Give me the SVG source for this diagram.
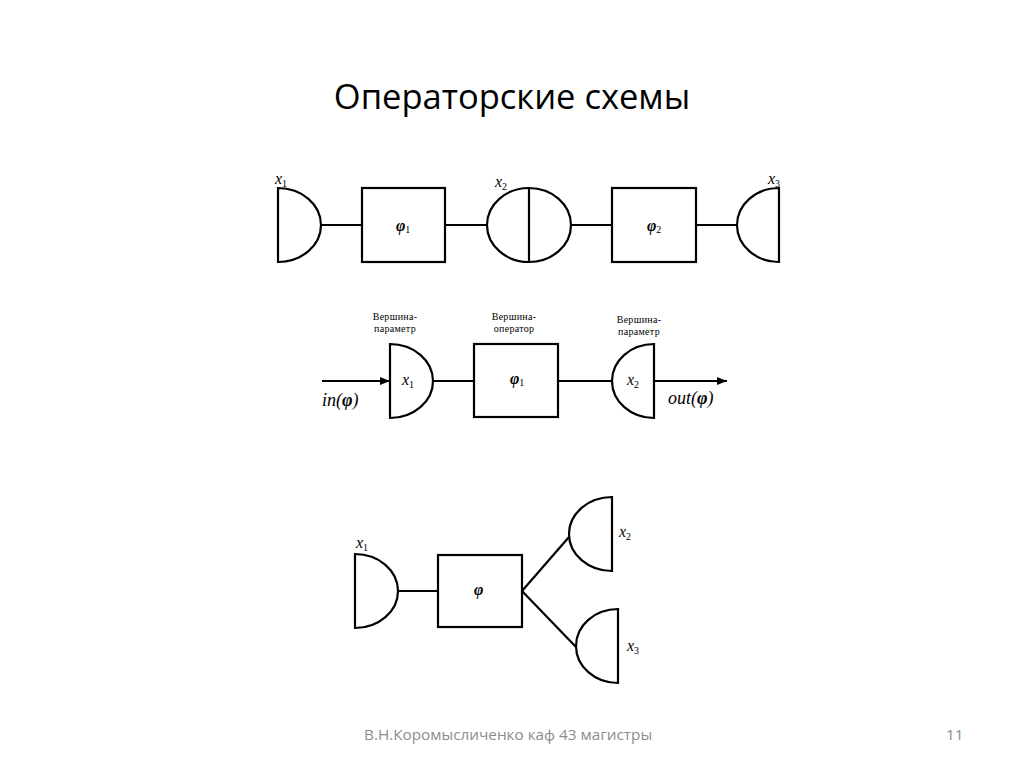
<svg xmlns="http://www.w3.org/2000/svg" width="1024" height="767" viewBox="0 0 1024 767">
<style>
.s{fill:none;stroke:#000;stroke-width:2.2}
.v{font-family:"Liberation Serif",serif;font-style:italic;font-size:16px;fill:#000}
.io{font-family:"Liberation Serif",serif;font-style:italic;font-size:18px;fill:#000}
.sub{font-size:10px;font-style:normal}
.vb{font-family:"Liberation Serif",serif;font-style:italic;font-weight:bold;font-size:16px;fill:#000}
.lab{font-family:"Liberation Serif",serif;font-size:10px;fill:#000;text-anchor:middle;letter-spacing:0.3px}
.t{font-family:"Open Sans","Liberation Sans",sans-serif;font-size:34.5px;fill:#000;text-anchor:middle}
.f{font-family:"Open Sans","Liberation Sans",sans-serif;font-size:15.3px;fill:#8c8c8c}
</style>
<defs>
<marker id="ah" markerWidth="10" markerHeight="8" refX="10" refY="4" orient="auto" markerUnits="userSpaceOnUse" viewBox="0 0 10 8">
<path d="M0,0 L10,4 L0,8 Z" fill="#000"/>
</marker>
</defs>
<rect width="1024" height="767" fill="#fff"/>
<text class="t" x="512" y="109">Операторские схемы</text>

<g id="connectors">
<line class="s" x1="321" y1="225" x2="362" y2="225"/>
<line class="s" x1="445" y1="225" x2="487" y2="225"/>
<line class="s" x1="571" y1="225" x2="612" y2="225"/>
<line class="s" x1="696" y1="225" x2="737" y2="225"/>
<line class="s" x1="322" y1="381" x2="390" y2="381" marker-end="url(#ah)"/>
<line class="s" x1="433" y1="381" x2="474" y2="381"/>
<line class="s" x1="558" y1="381" x2="612" y2="381"/>
<line class="s" x1="654" y1="381" x2="727" y2="381" marker-end="url(#ah)"/>
<line class="s" x1="398" y1="591" x2="438" y2="591"/>
<line class="s" x1="522" y1="591" x2="569" y2="537"/>
<line class="s" x1="522" y1="591" x2="576" y2="647"/>
</g>

<g id="r1-x1">
<path class="s" d="M278,188 A43,37 0 0 1 278,262 Z"/>
<text class="v" x="275" y="184">x<tspan class="sub" dy="3">1</tspan></text>
</g>
<g id="r1-phi1">
<rect class="s" x="362" y="188" width="83" height="74"/>
<text class="vb" x="396" y="231">φ<tspan class="sub" font-weight="normal" dy="2">1</tspan></text>
</g>
<g id="r1-x2">
<ellipse class="s" cx="529" cy="225" rx="42" ry="37"/>
<line class="s" x1="529" y1="188" x2="529" y2="262"/>
<text class="v" x="495" y="187">x<tspan class="sub" dy="3">2</tspan></text>
</g>
<g id="r1-phi2">
<rect class="s" x="612" y="188" width="84" height="74"/>
<text class="vb" x="647" y="231">φ<tspan class="sub" font-weight="normal" dy="2">2</tspan></text>
</g>
<g id="r1-x3">
<path class="s" d="M779,188 A42,37 0 0 0 779,262 Z"/>
<text class="v" x="768" y="184">x<tspan class="sub" dy="3">3</tspan></text>
</g>

<g id="r2-x1">
<path class="s" d="M390,344 A43,37 0 0 1 390,418 Z"/>
<text class="lab" x="395" y="320">Вершина-</text>
<text class="lab" x="395" y="332">параметр</text>
<text class="v" x="402" y="385">x<tspan class="sub" dy="3">1</tspan></text>
<text class="io" x="322" y="406">in(<tspan font-weight="bold">φ</tspan>)</text>
</g>
<g id="r2-phi1">
<rect class="s" x="474" y="344" width="84" height="73"/>
<text class="lab" x="514" y="320">Вершина-</text>
<text class="lab" x="514" y="332">оператор</text>
<text class="vb" x="510" y="384">φ<tspan class="sub" font-weight="normal" dy="2">1</tspan></text>
</g>
<g id="r2-x2">
<path class="s" d="M654,344 A42,37 0 0 0 654,418 Z"/>
<text class="lab" x="639" y="323">Вершина-</text>
<text class="lab" x="639" y="335">параметр</text>
<text class="v" x="627" y="385">x<tspan class="sub" dy="3">2</tspan></text>
<text class="io" x="668" y="404">out(<tspan font-weight="bold">φ</tspan>)</text>
</g>

<g id="r3-x1">
<path class="s" d="M355,554 A43,37 0 0 1 355,628 Z"/>
<text class="v" x="356" y="548">x<tspan class="sub" dy="3">1</tspan></text>
</g>
<g id="r3-phi">
<rect class="s" x="438" y="555" width="84" height="72"/>
<text class="vb" x="474" y="595">φ</text>
</g>
<g id="r3-x2">
<path class="s" d="M612,497 A43,37 0 0 0 612,571 Z"/>
<text class="v" x="619" y="537">x<tspan class="sub" dy="3">2</tspan></text>
</g>
<g id="r3-x3">
<path class="s" d="M618,609 A42,37 0 0 0 618,683 Z"/>
<text class="v" x="627" y="651">x<tspan class="sub" dy="3">3</tspan></text>
</g>

<text class="f" x="364" y="740">В.Н.Коромысличенко каф 43 магистры</text>
<text class="f" x="946" y="740">11</text>
</svg>
